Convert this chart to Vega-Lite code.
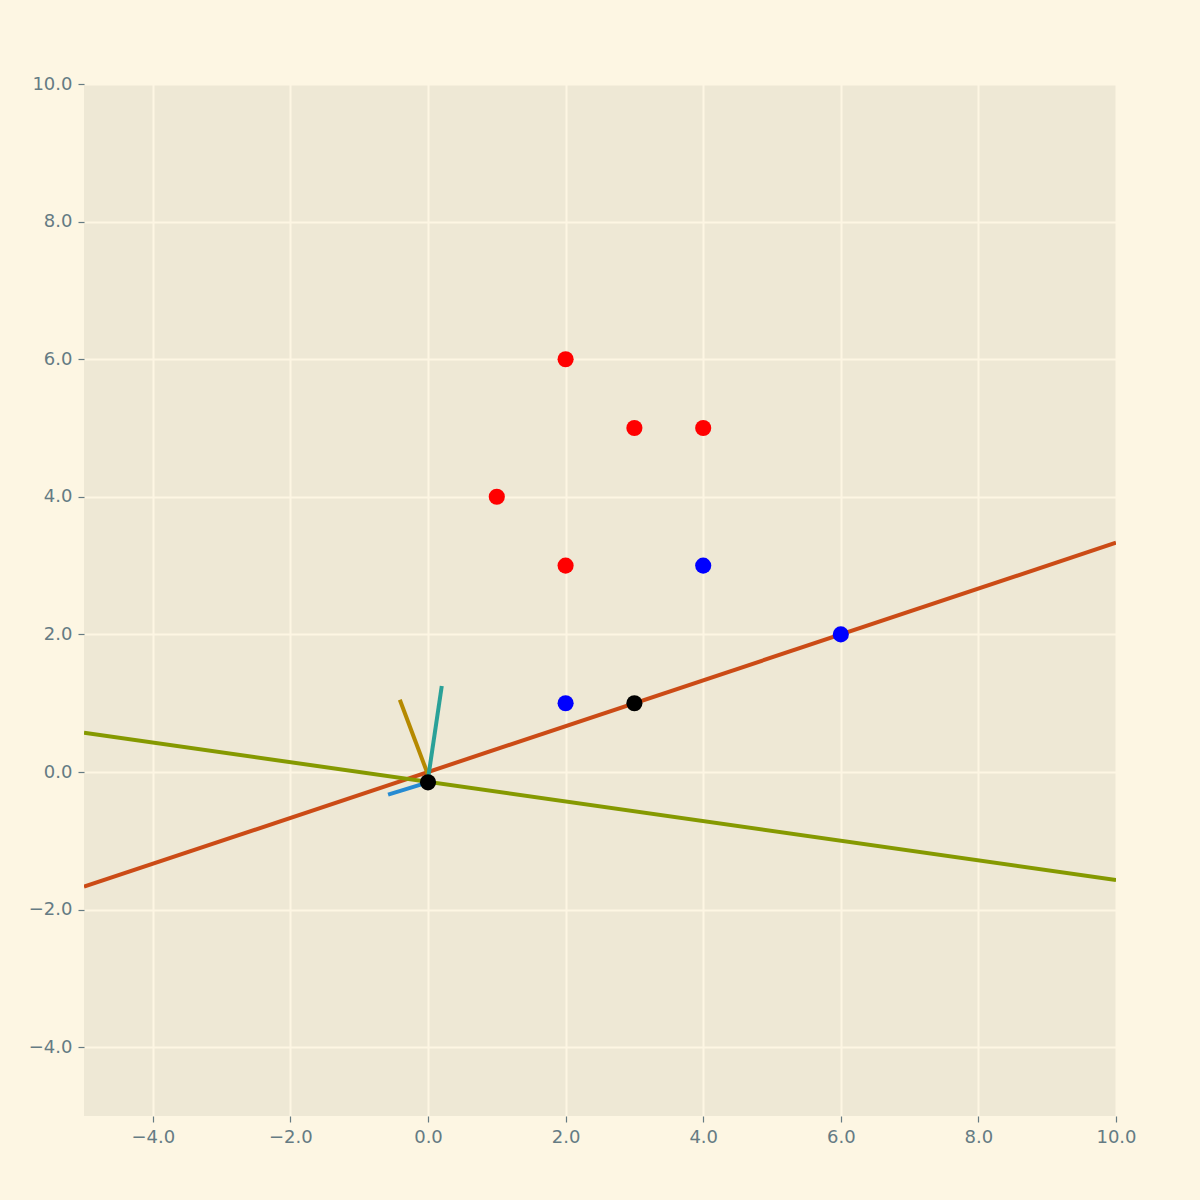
{
  "$schema": "https://vega.github.io/schema/vega-lite/v6.json",
  "width": 1032,
  "height": 1032,
  "autosize": {"type": "none"},
  "padding": {"left": 84, "top": 84, "right": 84, "bottom": 84},
  "background": "#fdf6e3",
  "config": {
    "view": {"fill": "#eee8d5", "stroke": null},
    "axis": {
      "grid": true, "gridColor": "#fdf6e3", "gridWidth": 2,
      "domain": false, "tickColor": "#657b83", "tickSize": 6, "tickWidth": 1.2,
      "labelColor": "#657b83", "labelFontSize": 18, "labelFont": "DejaVu Sans",
      "labelPadding": 6, "title": null, "labelFlush": false
    }
  },
  "datasets": {
    "pts": [
      {"x": 2, "y": 6, "c": "red"}, {"x": 3, "y": 5, "c": "red"}, {"x": 4, "y": 5, "c": "red"},
      {"x": 1, "y": 4, "c": "red"}, {"x": 2, "y": 3, "c": "red"},
      {"x": 2, "y": 1, "c": "blue"}, {"x": 4, "y": 3, "c": "blue"}, {"x": 6, "y": 2, "c": "blue"},
      {"x": 3, "y": 1, "c": "black"}, {"x": 0, "y": -0.15, "c": "black"}
    ],
    "lines": [
      {"id": "a", "x": -5, "y": -1.667, "c": "#cb4b16"}, {"id": "a", "x": 10, "y": 3.333, "c": "#cb4b16"},
      {"id": "b", "x": -5, "y": 0.571, "c": "#859900"}, {"id": "b", "x": 10, "y": -1.571, "c": "#859900"},
      {"id": "c", "x": -0.41, "y": 1.05, "c": "#b58900"}, {"id": "c", "x": 0, "y": -0.04, "c": "#b58900"},
      {"id": "d", "x": 0.2, "y": 1.25, "c": "#2aa198"}, {"id": "d", "x": 0, "y": -0.1, "c": "#2aa198"},
      {"id": "e", "x": -0.58, "y": -0.33, "c": "#268bd2"}, {"id": "e", "x": 0, "y": -0.15, "c": "#268bd2"}
    ]
  },
  "layer": [
    {
      "data": {"name": "lines"},
      "mark": {"type": "line", "strokeWidth": 4, "clip": true},
      "encoding": {
        "x": {"field": "x", "type": "quantitative", "scale": {"domain": [-5, 10], "nice": false, "zero": false}, "axis": {"values": [-4, -2, 0, 2, 4, 6, 8, 10]}},
        "y": {"field": "y", "type": "quantitative", "scale": {"domain": [-5, 10], "nice": false, "zero": false}, "axis": {"values": [-4, -2, 0, 2, 4, 6, 8, 10]}},
        "detail": {"field": "id"},
        "color": {"field": "c", "type": "nominal", "scale": null},
        "order": {"field": "x"}
      }
    },
    {
      "data": {"name": "pts"},
      "mark": {"type": "circle", "size": 260, "opacity": 1},
      "encoding": {
        "x": {"field": "x", "type": "quantitative"},
        "y": {"field": "y", "type": "quantitative"},
        "color": {"field": "c", "type": "nominal", "scale": null}
      }
    }
  ]
}
